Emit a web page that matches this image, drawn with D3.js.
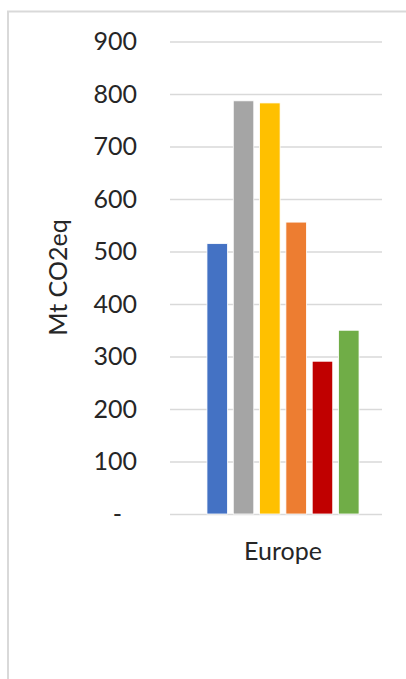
<!DOCTYPE html>
<html>
<head>
<meta charset="utf-8">
<script src="https://cdn.jsdelivr.net/npm/d3@7"></script>
<style>
  body { margin: 0; background: #fff; }
  text { font-family: Lato, "Open Sans", sans-serif; fill: #262626; }
</style>
</head>
<body>
<svg id="chart"></svg>
<script>
var categories = ["Europe"];
var series = ["s1", "s2", "s3", "s4", "s5", "s6"];
var values = [515, 787, 783, 556, 291, 350];
var colors = ["#4472C4", "#A5A5A5", "#FFC000", "#ED7D31", "#C00000", "#70AD47"];
var tickValues = [0, 100, 200, 300, 400, 500, 600, 700, 800, 900];
var tickLabels = ["-", "100", "200", "300", "400", "500", "600", "700", "800", "900"];
var yTitle = "Mt CO2eq";

var W = 406, H = 679;
var margin = {top: 41.5, left: 170, right: 24, bottom: 165};
var plotBottom = H - margin.bottom;
var gridRight = 382;

var svg = d3.select("#chart").attr("width", W).attr("height", H);

// outer frame of the chart area (cut by the window on right and bottom)
svg.append("rect")
    .attr("x", 8).attr("y", 11.5)
    .attr("width", W + 20).attr("height", H + 20)
    .attr("fill", "none")
    .attr("stroke", "#d9d9d9")
    .attr("stroke-width", 2);

var y = d3.scaleLinear()
    .domain([0, 900])
    .range([plotBottom, margin.top]);

var x0 = d3.scaleBand()
    .domain(categories)
    .range([margin.left, 396])
    .paddingOuter(0.243);

var x1 = d3.scaleBand()
    .domain(series)
    .range([0, x0.bandwidth()])
    .paddingInner(0.22);

// gridlines + tick labels
var yAxis = d3.axisLeft(y)
    .tickValues(tickValues)
    .tickSize(-(gridRight - margin.left))
    .tickPadding(33)
    .tickFormat(function(d, i) { return tickLabels[i]; });

var gy = svg.append("g")
    .attr("transform", "translate(" + margin.left + ",0)")
    .call(yAxis);
gy.select(".domain").remove();
gy.selectAll(".tick line")
    .attr("stroke", "#d9d9d9")
    .attr("stroke-width", 1.5);
gy.selectAll(".tick text")
    .style("font-size", "25px")
    .attr("fill", "#262626")
    .attr("dx", function(d) { return d === 0 ? -15 : 0; });

// bars
var grp = svg.append("g")
    .selectAll("g")
    .data(categories)
    .enter().append("g")
    .attr("transform", function(d) { return "translate(" + x0(d) + ",0)"; });

grp.selectAll("rect")
    .data(function() { return values.map(function(v, i) { return {s: series[i], v: v, c: colors[i]}; }); })
    .enter().append("rect")
    .attr("x", function(d) { return x1(d.s); })
    .attr("y", function(d) { return y(d.v); })
    .attr("width", x1.bandwidth())
    .attr("height", function(d) { return y(0) - y(d.v); })
    .attr("fill", function(d) { return d.c; })
    .attr("stroke", "#fff")
    .attr("stroke-width", 0.8);

// category label
svg.append("g")
    .selectAll("text")
    .data(categories)
    .enter().append("text")
    .attr("x", function(d) { return x0(d) + x0.bandwidth() / 2; })
    .attr("y", plotBottom + 46)
    .attr("text-anchor", "middle")
    .style("font-size", "25px")
    .text(function(d) { return d; });

// y title
svg.append("text")
    .attr("transform", "translate(67," + 277.5 + ") rotate(-90)")
    .attr("text-anchor", "middle")
    .style("font-size", "25px")
    .text(yTitle);
</script>
</body>
</html>
